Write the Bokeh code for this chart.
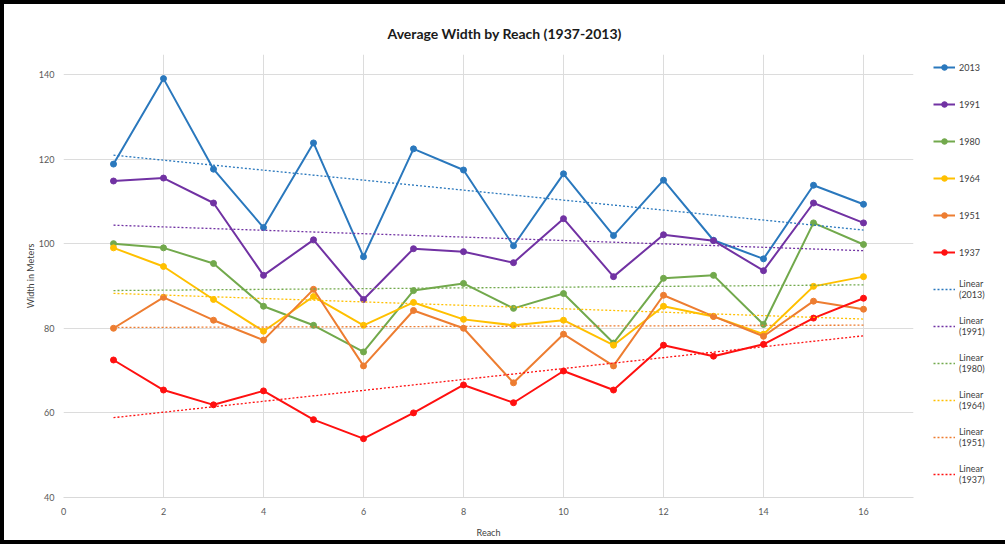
import numpy as np
from bokeh.plotting import figure
from bokeh.models import Legend, LegendItem, FixedTicker, Range1d
from bokeh.embed import file_html
from bokeh.resources import INLINE

reach = list(range(1, 17))
years = ["2013", "1991", "1980", "1964", "1951", "1937"]
w2013 = [118.8, 139.0, 117.6, 103.8, 123.8, 96.9, 122.4, 117.4, 99.5, 116.5, 101.9, 115.0, 100.8, 96.4, 113.8, 109.3]
w1991 = [114.8, 115.5, 109.6, 92.5, 100.9, 86.8, 98.8, 98.1, 95.5, 105.9, 92.2, 102.1, 100.7, 93.6, 109.6, 104.9]
w1980 = [100.0, 99.0, 95.3, 85.2, 80.7, 74.4, 88.9, 90.6, 84.7, 88.2, 76.5, 91.8, 92.5, 80.9, 104.9, 99.8]
w1964 = [99.0, 94.6, 86.8, 79.3, 87.5, 80.7, 86.1, 82.1, 80.7, 81.9, 76.0, 85.2, 82.8, 78.6, 89.9, 92.2]
w1951 = [80.0, 87.3, 81.9, 77.2, 89.2, 71.1, 84.2, 80.0, 67.1, 78.6, 71.1, 87.8, 82.8, 78.1, 86.4, 84.5]
w1937 = [72.5, 65.4, 61.9, 65.2, 58.4, 53.9, 60.0, 66.6, 62.4, 69.9, 65.4, 76.0, 73.4, 76.2, 82.4, 87.1]
series = [w2013, w1991, w1980, w1964, w1951, w1937]
colors = ["#2a78bd", "#7132a3", "#72a94c", "#ffc000", "#ed7d31", "#ff1010"]
x_ticks = [0, 2, 4, 6, 8, 10, 12, 14, 16]
y_ticks = [40, 60, 80, 100, 120, 140]

FONT = "Lato"
FW, FH = 850, 443

p = figure(frame_width=FW, frame_height=FH, output_backend="svg", toolbar_location=None,
           x_range=Range1d(0, 17), y_range=Range1d(40, 144.7),
           min_border_left=59, min_border_top=50, min_border_bottom=40,
           min_border_right=72)
p.styles = {"border": "4px solid black"}
p.outline_line_color = None
p.background_fill_color = "white"
p.border_fill_color = "white"

p.title.text = "Average Width by Reach (1937-2013)"
p.title.align = "left"
p.title.text_font = FONT
p.title.text_font_size = "14px"
p.title.text_font_style = "bold"
p.title.text_color = "#1a1a1a"
p.title.offset = 324
p.title.standoff = 26

p.xaxis.ticker = FixedTicker(ticks=x_ticks)
p.yaxis.ticker = FixedTicker(ticks=y_ticks)
for ax in (p.xaxis[0], p.yaxis[0]):
    ax.major_tick_line_color = None
    ax.minor_tick_line_color = None
    ax.major_label_text_font = FONT
    ax.major_label_text_font_size = "9px"
    ax.major_label_text_color = "#595959"
    ax.axis_label_text_font = FONT
    ax.axis_label_text_font_size = "9px"
    ax.axis_label_text_font_style = "normal"
    ax.axis_label_text_color = "#404040"
p.xaxis.axis_line_color = "#d9d9d9"
p.yaxis.axis_line_color = None
p.xaxis.axis_label = "Reach"
p.yaxis.axis_label = "Width in Meters"
p.xaxis.major_label_standoff = 4
p.yaxis.major_label_standoff = 3
p.xaxis.axis_label_standoff = 9
p.yaxis.axis_label_standoff = 0

p.xgrid.ticker = FixedTicker(ticks=x_ticks)
p.ygrid.ticker = FixedTicker(ticks=y_ticks)
p.xgrid.grid_line_color = "#dcdcdc"
p.ygrid.grid_line_color = "#dcdcdc"

items_main = []
items_trend = []
xr = np.array(reach, dtype=float)
for yr, vals, col in zip(years, series, colors):
    ln = p.line(reach, vals, line_color=col, line_width=2)
    sc = p.scatter(reach, vals, marker="circle", size=6, fill_color=col, line_color=col)
    items_main.append(LegendItem(label=yr, renderers=[ln, sc]))
for yr, vals, col in zip(years, series, colors):
    k, b = np.polyfit(xr, np.array(vals), 1)
    tl = p.line([xr[0], xr[-1]], [k * xr[0] + b, k * xr[-1] + b],
                line_color=col, line_width=1.3, line_dash="2 2")
    items_trend.append(LegendItem(label="Linear\n(" + yr + ")", renderers=[tl]))

legend = Legend(items=items_main + items_trend, location=(20, 11),
                margin=0, padding=0, spacing=13, glyph_width=22, glyph_height=14,
                label_height=24,
                label_standoff=4, label_text_font=FONT, label_text_font_size="9px",
                label_text_color="#404040", border_line_color=None,
                background_fill_alpha=0)
p.add_layout(legend, "right")

open("out.html", "w").write(file_html(p, INLINE))
